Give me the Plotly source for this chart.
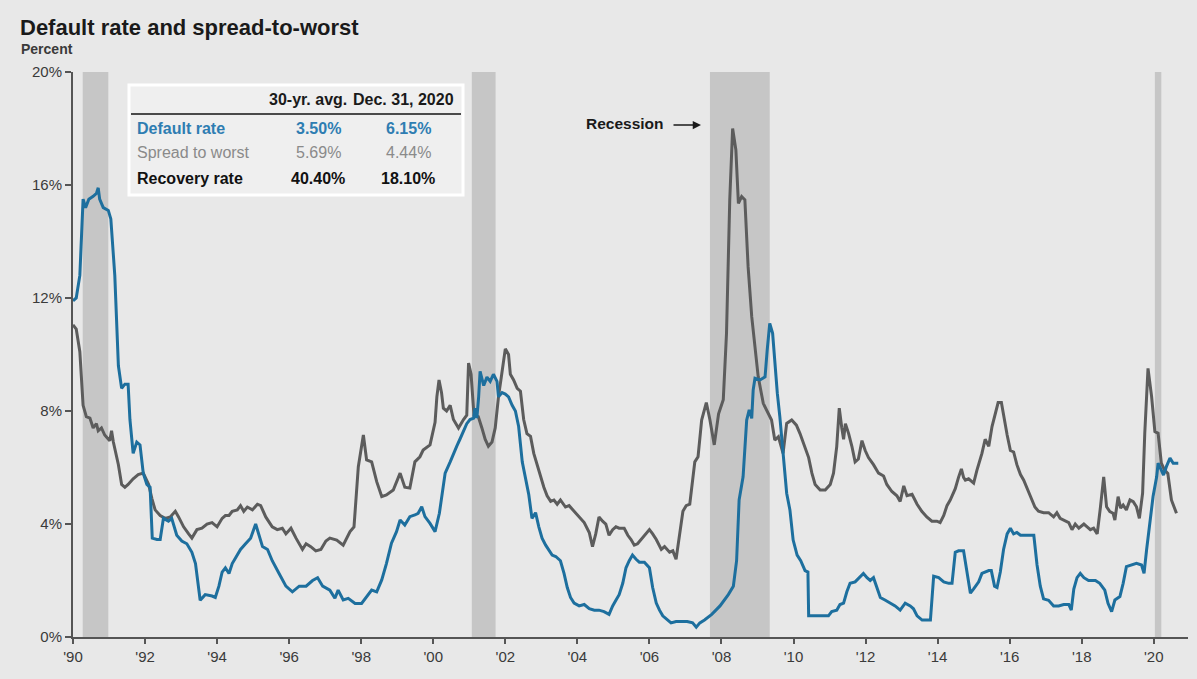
import plotly.graph_objects as go

# ---- Series: high-yield default rate (%), by decimal year ----
default_years = [
    1990.00, 1990.09, 1990.19, 1990.28, 1990.35, 1990.44, 1990.56, 1990.65, 1990.70, 1990.74,
    1990.84, 1990.98, 1991.05, 1991.16, 1991.26, 1991.35, 1991.44, 1991.53, 1991.58, 1991.67,
    1991.77, 1991.86, 1991.95, 1992.05, 1992.14, 1992.20, 1992.33, 1992.42, 1992.51, 1992.65,
    1992.74, 1992.88, 1993.02, 1993.16, 1993.30, 1993.40, 1993.53, 1993.67, 1993.86, 1993.95,
    1994.05, 1994.14, 1994.23, 1994.33, 1994.42, 1994.51, 1994.65, 1994.79, 1994.93, 1995.07,
    1995.16, 1995.26, 1995.40, 1995.53, 1995.72, 1995.91, 1996.09, 1996.28, 1996.47, 1996.65,
    1996.79, 1996.93, 1997.13, 1997.27, 1997.36, 1997.50, 1997.64, 1997.83, 1998.01, 1998.15,
    1998.29, 1998.43, 1998.57, 1998.70, 1998.84, 1998.98, 1999.08, 1999.21, 1999.35, 1999.49,
    1999.58, 1999.68, 1999.77, 1999.91, 2000.05, 2000.17, 2000.23, 2000.33, 2000.47, 2000.56,
    2000.65, 2000.74, 2000.84, 2000.93, 2001.02, 2001.12, 2001.16, 2001.21, 2001.26, 2001.30,
    2001.40, 2001.49, 2001.58, 2001.67, 2001.77, 2001.81, 2001.91, 2002.00, 2002.09, 2002.19,
    2002.28, 2002.37, 2002.47, 2002.56, 2002.65, 2002.74, 2002.84, 2002.93, 2003.02, 2003.12,
    2003.21, 2003.30, 2003.40, 2003.53, 2003.63, 2003.72, 2003.81, 2003.91, 2004.05, 2004.19,
    2004.33, 2004.47, 2004.60, 2004.74, 2004.88, 2004.98, 2005.07, 2005.16, 2005.26, 2005.35,
    2005.44, 2005.53, 2005.63, 2005.72, 2005.86, 2006.00, 2006.09, 2006.19, 2006.28, 2006.37,
    2006.51, 2006.60, 2006.74, 2006.88, 2007.05, 2007.20, 2007.30, 2007.40, 2007.53, 2007.73,
    2007.96, 2008.19, 2008.33, 2008.42, 2008.49, 2008.60, 2008.70, 2008.77, 2008.84, 2008.88,
    2008.93, 2009.07, 2009.21, 2009.27, 2009.34, 2009.42, 2009.48, 2009.55, 2009.62, 2009.71,
    2009.81, 2009.90, 2009.99, 2010.10, 2010.20, 2010.32, 2010.40, 2010.42, 2010.60, 2010.80,
    2010.97, 2011.06, 2011.20, 2011.29, 2011.39, 2011.48, 2011.57, 2011.71, 2011.85, 2011.94,
    2012.04, 2012.13, 2012.22, 2012.31, 2012.41, 2012.55, 2012.69, 2012.82, 2012.96, 2013.10,
    2013.24, 2013.33, 2013.43, 2013.57, 2013.80, 2013.89, 2014.03, 2014.17, 2014.31, 2014.40,
    2014.49, 2014.58, 2014.72, 2014.81, 2014.91, 2015.00, 2015.14, 2015.23, 2015.32, 2015.42,
    2015.49, 2015.58, 2015.65, 2015.74, 2015.83, 2015.93, 2016.02, 2016.11, 2016.20, 2016.30,
    2016.48, 2016.67, 2016.76, 2016.85, 2016.94, 2017.08, 2017.22, 2017.36, 2017.50, 2017.64,
    2017.71, 2017.78, 2017.87, 2017.96, 2018.06, 2018.19, 2018.38, 2018.50, 2018.64, 2018.73,
    2018.83, 2018.92, 2019.06, 2019.15, 2019.24, 2019.38, 2019.52, 2019.66, 2019.73, 2019.80,
    2019.89, 2019.98, 2020.08, 2020.12, 2020.21, 2020.27, 2020.35, 2020.45, 2020.54, 2020.68,
]
default_rate = [
    11.9, 12.0, 12.8, 15.5, 15.2, 15.5, 15.6, 15.7, 15.9, 15.5,
    15.2, 15.1, 14.8, 12.8, 9.6, 8.8, 8.95, 8.95, 7.7, 6.5,
    6.9, 6.8, 5.8, 5.4, 5.3, 3.5, 3.45, 3.45, 4.2, 4.1,
    4.2, 3.6, 3.4, 3.3, 3.0, 2.6, 1.3, 1.5, 1.45, 1.4,
    1.8, 2.3, 2.45, 2.25, 2.6, 2.8, 3.1, 3.3, 3.5, 4.0,
    3.6, 3.2, 3.1, 2.7, 2.25, 1.8, 1.6, 1.8, 1.8, 2.0,
    2.1, 1.8, 1.66, 1.37, 1.66, 1.31, 1.37, 1.19, 1.19, 1.43,
    1.66, 1.6, 2.02, 2.6, 3.32, 3.73, 4.14, 3.96, 4.26, 4.32,
    4.38, 4.61, 4.26, 4.02, 3.73, 4.38, 4.85, 5.8, 6.2, 6.5,
    6.75, 7.0, 7.3, 7.55, 7.7, 7.75, 8.1, 7.75, 8.5, 9.4,
    8.9, 9.2, 9.05, 9.3, 9.05, 8.5, 8.65, 8.6, 8.5, 8.2,
    8.0, 7.45, 6.2, 5.55, 5.05, 4.2, 4.4, 3.9, 3.5, 3.25,
    3.05, 2.9, 2.85, 2.7, 2.25, 1.75, 1.4, 1.2, 1.1, 1.15,
    1.0, 0.95, 0.95, 0.9, 0.8, 1.1, 1.3, 1.5, 1.9, 2.45,
    2.7, 2.9, 2.75, 2.65, 2.65, 2.45, 1.75, 1.2, 0.95, 0.75,
    0.6, 0.5, 0.55, 0.55, 0.55, 0.5, 0.35, 0.5, 0.6, 0.8,
    1.1, 1.5, 1.8, 2.7, 4.85, 5.67, 7.68, 8.04, 7.74, 8.74,
    9.16, 9.1, 9.21, 10.16, 11.1, 10.75, 9.69, 8.63, 7.8, 6.5,
    5.09, 4.5, 3.43, 2.9, 2.7, 2.35, 2.3, 0.75, 0.75, 0.75,
    0.75, 0.9, 0.95, 1.15, 1.2, 1.6, 1.9, 1.95, 2.15, 2.25,
    2.1, 2.0, 2.1, 1.8, 1.4, 1.3, 1.2, 1.1, 0.95, 1.2,
    1.1, 1.0, 0.75, 0.6, 0.6, 2.15, 2.1, 1.95, 1.9, 1.9,
    3.0, 3.05, 3.05, 2.35, 1.55, 1.7, 1.95, 2.25, 2.3, 2.35,
    2.35, 1.8, 1.75, 2.3, 3.1, 3.65, 3.85, 3.65, 3.7, 3.6,
    3.6, 3.6, 2.55, 1.8, 1.35, 1.3, 1.1, 1.1, 1.15, 1.15,
    0.95, 1.7, 2.1, 2.25, 2.1, 2.0, 2.0, 1.9, 1.66, 1.19,
    0.9, 1.31, 1.43, 1.9, 2.49, 2.55, 2.61, 2.55, 2.25, 3.08,
    4.14, 4.97, 5.67, 6.15, 5.91, 5.73, 6.03, 6.33, 6.15, 6.15,
]

# ---- Series: high-yield spread-to-worst (%), by decimal year ----
spread_years = [
    1990.00, 1990.09, 1990.19, 1990.28, 1990.37, 1990.47, 1990.56, 1990.65, 1990.70, 1990.79,
    1990.88, 1991.02, 1991.07, 1991.12, 1991.26, 1991.35, 1991.44, 1991.53, 1991.67, 1991.81,
    1991.95, 1992.05, 1992.10, 1992.19, 1992.28, 1992.42, 1992.56, 1992.70, 1992.84, 1992.93,
    1993.07, 1993.21, 1993.30, 1993.44, 1993.58, 1993.72, 1993.86, 1994.00, 1994.14, 1994.23,
    1994.33, 1994.42, 1994.56, 1994.65, 1994.74, 1994.84, 1994.98, 1995.12, 1995.21, 1995.35,
    1995.53, 1995.67, 1995.81, 1995.91, 1996.05, 1996.19, 1996.37, 1996.47, 1996.60, 1996.74,
    1996.88, 1997.02, 1997.13, 1997.32, 1997.50, 1997.69, 1997.80, 1997.92, 1998.06, 1998.15,
    1998.29, 1998.43, 1998.57, 1998.70, 1998.89, 1999.08, 1999.21, 1999.35, 1999.49, 1999.63,
    1999.72, 1999.91, 2000.05, 2000.10, 2000.16, 2000.23, 2000.28, 2000.37, 2000.47, 2000.56,
    2000.70, 2000.84, 2000.93, 2000.98, 2001.05, 2001.13, 2001.25, 2001.35, 2001.44, 2001.53,
    2001.63, 2001.72, 2001.81, 2001.90, 2002.00, 2002.09, 2002.14, 2002.23, 2002.33, 2002.42,
    2002.51, 2002.60, 2002.70, 2002.79, 2002.88, 2002.98, 2003.07, 2003.16, 2003.26, 2003.35,
    2003.44, 2003.53, 2003.67, 2003.77, 2003.91, 2004.05, 2004.19, 2004.33, 2004.42, 2004.51,
    2004.60, 2004.70, 2004.79, 2004.88, 2004.98, 2005.07, 2005.16, 2005.30, 2005.40, 2005.49,
    2005.58, 2005.67, 2005.77, 2005.91, 2006.00, 2006.09, 2006.19, 2006.33, 2006.42, 2006.56,
    2006.65, 2006.74, 2006.84, 2006.93, 2007.02, 2007.12, 2007.26, 2007.35, 2007.45, 2007.58,
    2007.68, 2007.80, 2007.92, 2008.05, 2008.14, 2008.23, 2008.31, 2008.40, 2008.47, 2008.56,
    2008.65, 2008.74, 2008.84, 2008.93, 2009.02, 2009.16, 2009.30, 2009.39, 2009.48, 2009.58,
    2009.71, 2009.81, 2009.95, 2010.08, 2010.18, 2010.32, 2010.42, 2010.51, 2010.60, 2010.74,
    2010.88, 2011.02, 2011.11, 2011.20, 2011.27, 2011.34, 2011.39, 2011.44, 2011.53, 2011.62,
    2011.71, 2011.80, 2011.90, 2011.99, 2012.08, 2012.22, 2012.36, 2012.50, 2012.59, 2012.73,
    2012.87, 2012.96, 2013.06, 2013.15, 2013.29, 2013.43, 2013.56, 2013.70, 2013.84, 2013.98,
    2014.07, 2014.17, 2014.26, 2014.35, 2014.49, 2014.58, 2014.66, 2014.72, 2014.77, 2014.86,
    2015.00, 2015.09, 2015.23, 2015.32, 2015.42, 2015.51, 2015.60, 2015.68, 2015.77, 2015.83,
    2015.93, 2016.02, 2016.11, 2016.20, 2016.30, 2016.39, 2016.48, 2016.57, 2016.70, 2016.80,
    2016.94, 2017.08, 2017.22, 2017.31, 2017.40, 2017.55, 2017.64, 2017.73, 2017.82, 2017.92,
    2018.06, 2018.15, 2018.24, 2018.33, 2018.43, 2018.52, 2018.61, 2018.69, 2018.78, 2018.87,
    2018.92, 2019.01, 2019.08, 2019.15, 2019.24, 2019.34, 2019.43, 2019.52, 2019.60, 2019.69,
    2019.75, 2019.84, 2019.94, 2020.03, 2020.12, 2020.21, 2020.30, 2020.39, 2020.49, 2020.63,
]
spread_to_worst = [
    11.05, 10.9, 10.1, 8.2, 7.8, 7.75, 7.4, 7.55, 7.3, 7.4,
    7.15, 6.95, 7.3, 6.9, 6.1, 5.4, 5.3, 5.4, 5.6, 5.75,
    5.8, 5.55, 5.4, 4.9, 4.5, 4.3, 4.2, 4.25, 4.45, 4.25,
    3.9, 3.65, 3.5, 3.8, 3.85, 4.0, 4.05, 3.9, 4.2, 4.3,
    4.3, 4.45, 4.5, 4.65, 4.45, 4.6, 4.5, 4.7, 4.65, 4.25,
    3.9, 3.8, 3.85, 3.65, 3.85, 3.5, 3.1, 3.3, 3.2, 3.05,
    3.1, 3.4, 3.5, 3.43, 3.25, 3.73, 3.9, 6.03, 7.15, 6.27,
    6.2, 5.5, 4.97, 5.03, 5.2, 5.8, 5.3, 5.27, 6.2, 6.38,
    6.62, 6.8, 7.6, 8.5, 9.1, 8.65, 8.1, 8.0, 8.2, 7.7,
    7.4, 7.7, 7.85, 9.7, 9.3, 7.85, 7.8, 7.4, 7.0, 6.75,
    6.9, 7.4, 8.5, 9.3, 10.2, 10.0, 9.3, 9.1, 8.8, 8.7,
    7.7, 7.2, 7.1, 6.5, 6.1, 5.7, 5.3, 5.0, 4.8, 4.85,
    4.7, 4.85, 4.6, 4.65, 4.45, 4.25, 4.05, 3.7, 3.2, 3.65,
    4.25, 4.1, 4.0, 3.6, 3.8, 3.9, 3.85, 3.85, 3.6, 3.45,
    3.25, 3.3, 3.45, 3.65, 3.8, 3.65, 3.45, 3.1, 3.2, 3.0,
    3.05, 2.75, 3.6, 4.45, 4.65, 4.7, 6.2, 6.38, 7.68, 8.3,
    7.68, 6.8, 7.9, 8.4, 10.75, 15.47, 18.0, 17.24, 15.35, 15.59,
    15.47, 13.1, 11.34, 10.16, 9.21, 8.27, 7.92, 7.68, 6.97, 7.09,
    6.5, 7.56, 7.68, 7.5, 7.2, 6.7, 6.35, 5.8, 5.4, 5.2,
    5.2, 5.4, 5.8, 6.75, 8.1, 7.4, 7.0, 7.55, 7.2, 6.75,
    6.2, 6.3, 6.95, 6.6, 6.35, 6.1, 5.8, 5.7, 5.4, 5.15,
    5.0, 4.8, 5.35, 5.0, 5.05, 4.7, 4.45, 4.25, 4.1, 4.1,
    4.05, 4.3, 4.65, 4.85, 5.25, 5.65, 5.95, 5.65, 5.55, 5.6,
    5.45, 5.9, 6.5, 7.0, 6.75, 7.45, 7.85, 8.3, 8.3, 7.85,
    7.15, 6.6, 6.55, 6.1, 5.75, 5.55, 5.25, 5.0, 4.6, 4.45,
    4.4, 4.4, 4.25, 4.4, 4.2, 4.1, 4.05, 3.8, 4.0, 3.85,
    4.0, 3.9, 3.8, 3.85, 3.65, 4.6, 5.67, 4.61, 4.44, 4.38,
    4.14, 4.97, 4.56, 4.67, 4.5, 4.85, 4.79, 4.61, 4.2, 5.09,
    7.21, 9.51, 8.51, 7.27, 7.21, 6.15, 5.91, 5.79, 4.85, 4.38,
]

# ---- Recession periods (decimal years) ----
recession_starts = [1990.27, 2001.07, 2007.68, 2020.03]
recession_ends = [1990.98, 2001.73, 2009.34, 2020.21]

# ---- Axis ticks ----
x_tick_years = [1990, 1992, 1994, 1996, 1998, 2000, 2002, 2004,
                2006, 2008, 2010, 2012, 2014, 2016, 2018, 2020]
x_tick_labels = ["'90", "'92", "'94", "'96", "'98", "'00", "'02", "'04",
                 "'06", "'08", "'10", "'12", "'14", "'16", "'18", "'20"]
y_tick_values = [0, 4, 8, 12, 16, 20]
y_tick_labels = ["0%", "4%", "8%", "12%", "16%", "20%"]

# ---- Summary table ----
table_rows = ["Default rate", "Spread to worst", "Recovery rate"]
avg_30yr = ["3.50%", "5.69%", "40.40%"]
dec_2020 = ["6.15%", "4.44%", "18.10%"]
table_colors = ["#2E7DB2", "#8A8A8A", "#111111"]
table_bold = [True, False, True]

BLUE = "#1D6F9E"
GREY = "#5C5C5C"
BG = "#E8E8E8"
FONT = "Arial, Liberation Sans, sans-serif"

W, H = 1197, 679
ML, MR, MT, MB = 73, 9, 72, 42
PW, PH = W - ML - MR, H - MT - MB


def px(x):
    """Horizontal pixel position -> paper fraction."""
    return (x - ML) / PW


def py(y):
    """Vertical pixel position -> paper fraction."""
    return (H - MB - y) / PH


fig = go.Figure()

fig.add_trace(go.Scatter(
    x=spread_years, y=spread_to_worst, mode="lines",
    line=dict(color=GREY, width=3), name="Spread to worst",
))
fig.add_trace(go.Scatter(
    x=default_years, y=default_rate, mode="lines",
    line=dict(color=BLUE, width=3), name="Default rate",
))

shapes = []
for x0, x1 in zip(recession_starts, recession_ends):
    shapes.append(dict(
        type="rect", xref="x", yref="y", x0=x0, x1=x1, y0=0, y1=20,
        fillcolor="#C6C6C6", line=dict(width=0), layer="below",
    ))

# table box and header rule
shapes.append(dict(
    type="rect", xref="paper", yref="paper",
    x0=px(129), x1=px(463), y0=py(195), y1=py(85),
    fillcolor="#EFEFEF", line=dict(color="#FFFFFF", width=3), layer="above",
))
shapes.append(dict(
    type="line", xref="paper", yref="paper",
    x0=px(131), x1=px(461), y0=py(114), y1=py(114),
    line=dict(color="#4A4A4A", width=2),
))

annotations = [
    dict(text="<b>Default rate and spread-to-worst</b>", xref="paper", yref="paper",
         x=px(18), y=py(27), xanchor="left", yanchor="middle", showarrow=False,
         font=dict(size=22, color="#1A1A1A", family=FONT)),
    dict(text="<b>Percent</b>", xref="paper", yref="paper",
         x=px(19), y=py(49), xanchor="left", yanchor="middle", showarrow=False,
         font=dict(size=14, color="#3A3A3A", family=FONT)),
    dict(text="<b>30-yr. avg.</b>", xref="paper", yref="paper",
         x=px(308), y=py(99), xanchor="center", yanchor="middle", showarrow=False,
         font=dict(size=16, color="#1A1A1A", family=FONT)),
    dict(text="<b>Dec. 31, 2020</b>", xref="paper", yref="paper",
         x=px(403), y=py(99), xanchor="center", yanchor="middle", showarrow=False,
         font=dict(size=16, color="#1A1A1A", family=FONT)),
    dict(text="<b>Recession</b>", xref="paper", yref="paper",
         x=px(666), y=py(123), xanchor="right", yanchor="middle", showarrow=False,
         font=dict(size=15.5, color="#1A1A1A", family=FONT)),
    dict(text="", xref="paper", yref="paper", axref="pixel", ayref="pixel",
         x=px(701), y=py(125), ax=-29, ay=0, showarrow=True,
         arrowhead=2, arrowsize=1.1, arrowwidth=1.5, arrowcolor="#1A1A1A"),
]

row_y = [129, 153, 178]
for label, a, d, c, b, yy in zip(table_rows, avg_30yr, dec_2020, table_colors, table_bold, row_y):
    wrap = (lambda s: f"<b>{s}</b>") if b else (lambda s: s)
    for txt, xx, anchor in ((label, 135, "left"), (a, 318, "center"), (d, 408, "center")):
        annotations.append(dict(
            text=wrap(txt), xref="paper", yref="paper", x=px(xx), y=py(yy),
            xanchor=anchor, yanchor="middle", showarrow=False,
            font=dict(size=16, color=c, family=FONT),
        ))

fig.update_layout(
    width=W, height=H,
    margin=dict(l=ML, r=MR, t=MT, b=MB, pad=0),
    paper_bgcolor=BG, plot_bgcolor=BG,
    showlegend=False,
    font=dict(family=FONT, color="#3A3A3A"),
    shapes=shapes,
    annotations=annotations,
    xaxis=dict(
        range=[1990, 2020.95], tickmode="array",
        tickvals=x_tick_years, ticktext=x_tick_labels,
        ticks="outside", ticklen=5, tickwidth=1.5, tickcolor="#555555",
        showline=True, linecolor="#555555", linewidth=2,
        showgrid=False, zeroline=False,
        tickfont=dict(size=15, color="#3A3A3A", family=FONT),
    ),
    yaxis=dict(
        range=[0, 20], tickmode="array",
        tickvals=y_tick_values, ticktext=y_tick_labels,
        ticks="outside", ticklen=6, tickwidth=1.5, tickcolor="#555555",
        showline=True, linecolor="#555555", linewidth=2,
        showgrid=False, zeroline=False,
        tickfont=dict(size=15, color="#3A3A3A", family=FONT),
    ),
)

fig.write_html("out.html", config={"displayModeBar": False})
